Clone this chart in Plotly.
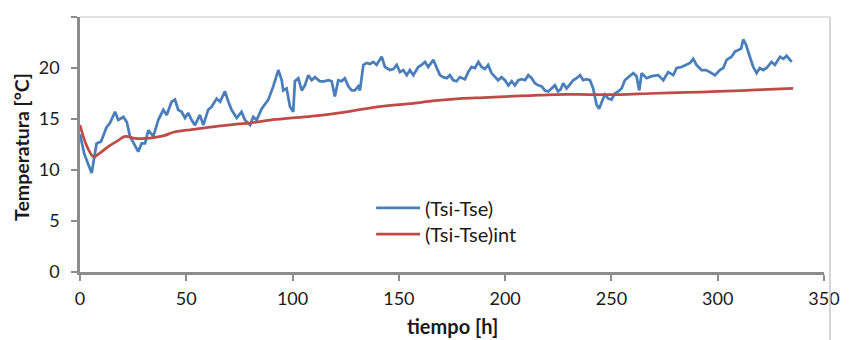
import plotly.graph_objects as go

# Blue series (Tsi-Tse): hours and values
t_blue = [0, 2, 4, 5.5, 7.8, 9.9, 12.5, 14.1, 16.5, 18, 20.4, 22, 23.5, 25.9, 27.4, 29, 30.6,
          32.1, 34.5, 36.8, 39.2, 40.8, 43.1, 44.7, 46.2, 47.8, 49.4, 50.9, 52.5, 54.1, 56.4,
          58, 60.3, 61.9, 64.3, 65.9, 68.2, 69.8, 71.3, 73.7, 76, 77.6, 80, 81.5, 83.1, 85.5,
          87, 88.6, 90.9, 93.3, 94.9, 95.6, 97.2, 98.8, 100.3, 101.1, 102.7, 104.3, 105.8,
          107.4, 109, 110.5, 112.9, 114.8, 116.8, 118.4, 119.9, 121.5, 123, 124.6, 126.2,
          127.8, 129.3, 130.9, 131.7, 133.3, 134.8, 136.4, 138, 139.5, 141.9, 143.5, 145.8,
          147.4, 149, 150.5, 152.1, 153.7, 155.2, 156.8, 159.1, 160.7, 162.3, 163.8, 166.2,
          167.8, 169.3, 170.9, 172.5, 174, 175.6, 177.1, 178.7, 181.1, 182.6, 184.2, 185.8,
          187.4, 188.9, 190.5, 192, 193.6, 195.2, 196.7, 198.3, 199.9, 201.5, 203.1, 204.6,
          206.2, 207.8, 209.4, 210.9, 212.5, 214, 215.6, 217.2, 218.7, 220.3, 221.8, 223.4,
          224.9, 226.1, 227.3, 228.9, 230.5, 232, 233.6, 235.2, 236.7, 238.3, 239.9, 241.4,
          243, 244.2, 245.5, 246.9, 248.5, 250, 251.6, 253.2, 254.8, 256.3, 257.9, 260.3,
          261.8, 263.1, 264.2, 266.5, 269, 272, 274.4, 276.7, 279.1, 280.7, 283, 285.4, 287,
          288.5, 290, 292.4, 294.5, 296.3, 298.7, 301, 302.6, 304.2, 306.5, 308.1, 309.7,
          311, 312, 313.3, 315.1, 316.7, 318.3, 319.8, 321.4, 323, 325.3, 326.9, 329.3,
          330.9, 332.4, 334.8]
v_blue = [13.5, 11.6, 10.5, 9.7, 12.6, 12.8, 14.2, 14.6, 15.7, 14.9, 15.2, 14.7, 13.3, 12.3,
          11.8, 12.6, 12.6, 13.9, 13.3, 14.9, 15.9, 15.4, 16.7, 16.9, 15.9, 15.7, 15.1, 15.6,
          14.9, 14.4, 15.4, 14.4, 15.9, 16.2, 17.0, 16.7, 17.7, 16.7, 15.9, 15.1, 15.7, 14.9,
          14.4, 15.2, 14.9, 16.0, 16.4, 16.9, 18.2, 19.8, 18.8, 17.8, 18.0, 16.2, 15.7, 18.7,
          19.0, 17.8, 18.3, 19.3, 18.8, 19.1, 18.7, 18.7, 18.8, 18.7, 17.2, 18.8, 18.7, 19.0,
          18.2, 17.8, 17.8, 18.2, 17.8, 20.3, 20.5, 20.4, 20.6, 20.3, 21.1, 20.1, 19.8, 19.9,
          20.3, 19.6, 19.8, 19.3, 19.8, 19.3, 20.1, 20.3, 20.6, 20.1, 20.8, 20.1, 19.3, 19.1,
          19.0, 19.3, 18.8, 18.7, 19.1, 18.9, 19.6, 20.1, 20.0, 20.6, 20.1, 19.9, 20.3, 19.5,
          19.1, 18.8, 19.1, 18.8, 18.3, 18.7, 18.3, 18.8, 18.9, 18.8, 19.3, 19.0, 18.5, 18.3,
          18.2, 17.8, 17.7, 18.0, 18.3, 17.7, 17.9, 18.5, 18.0, 18.4, 18.8, 19.0, 19.3, 18.8,
          18.9, 18.8, 18.0, 16.4, 16.0, 16.7, 17.4, 17.0, 16.9, 17.5, 17.7, 18.0, 18.8, 19.1,
          19.5, 19.2, 17.8, 19.5, 19.0, 19.2, 19.3, 18.8, 19.6, 19.3, 20.0, 20.1, 20.3, 20.5,
          20.9, 20.3, 19.8, 19.8, 19.6, 19.3, 19.8, 20.0, 20.8, 21.1, 21.6, 21.8, 21.9, 22.8,
          22.3, 21.1, 20.1, 19.5, 20.0, 19.8, 20.0, 20.6, 20.3, 21.1, 20.9, 21.2, 20.6]

# Red series (Tsi-Tse)int
t_red = [0, 2, 4, 6.3, 9, 13.3, 18, 21.2, 25.9, 30.6, 35.3, 40, 43.9, 50, 58, 65, 73.7,
         80, 89.4, 100, 110.5, 122, 134, 145, 155.2, 167, 178.7, 190, 200, 212, 223.4,
         240, 254, 268, 285, 300, 318, 335.5]
v_red = [14.4, 13.0, 12.0, 11.3, 11.6, 12.3, 12.9, 13.3, 13.1, 13.1, 13.2, 13.4, 13.7,
         13.9, 14.1, 14.3, 14.5, 14.6, 14.9, 15.1, 15.3, 15.6, 16.0, 16.3, 16.5, 16.8,
         17.0, 17.1, 17.2, 17.3, 17.4, 17.4, 17.4, 17.5, 17.6, 17.7, 17.85, 18.0]

series_names = ["(Tsi-Tse)", "(Tsi-Tse)int"]
series_colors = ["#4a7ebb", "#be4b48"]

x_ticks = [0, 50, 100, 150, 200, 250, 300, 350]
y_ticks = [0, 5, 10, 15, 20, 25]

FONT = "Lato, 'Open Sans', sans-serif"
TXT = "#1a1a1a"

fig = go.Figure()
fig.add_trace(go.Scatter(x=t_blue, y=v_blue, mode="lines", name=series_names[0],
                         showlegend=False,
                         line=dict(color=series_colors[0], width=2.75)))
fig.add_trace(go.Scatter(x=t_red, y=v_red, mode="lines", name=series_names[1],
                         showlegend=False, line_shape="spline",
                         line=dict(color=series_colors[1], width=2.75)))

axis_common = dict(showgrid=False, zeroline=False, showline=True, linecolor="#8c8c8c",
                   linewidth=2.5, ticks="outside", ticklen=6, tickwidth=1.5,
                   tickcolor="#8c8c8c", automargin=False,
                   tickfont=dict(family=FONT, size=18, color=TXT))

fig.update_xaxes(range=[0, 350], tickvals=x_ticks, ticklabelstandoff=3, **axis_common)
fig.update_yaxes(range=[0, 25], tickvals=y_ticks, ticklabelstandoff=8, **axis_common)

# axis titles
fig.add_annotation(text="<b>Temperatura [°C]</b>", xref="paper", yref="paper",
                   x=-0.0795, y=0.49, xanchor="center", yanchor="middle",
                   textangle=-90, showarrow=False, borderpad=0,
                   font=dict(family=FONT, size=19.5, color=TXT))
fig.add_annotation(text="<b>tiempo [h]</b>", xref="paper", yref="paper",
                   x=0.5, y=-0.212, xanchor="center", yanchor="middle", showarrow=False,
                   font=dict(family=FONT, size=20, color=TXT))

# legend (drawn as line samples + labels)
leg_y = [0.251, 0.149]
for name, col, ly in zip(series_names, series_colors, leg_y):
    fig.add_shape(type="line", xref="paper", yref="paper", x0=0.398, x1=0.457,
                  y0=ly, y1=ly, line=dict(color=col, width=2.75))
    fig.add_annotation(text=name, xref="paper", yref="paper", x=0.461, y=ly,
                       xanchor="left", yanchor="middle", showarrow=False,
                       font=dict(family=FONT, size=20, color=TXT))

# chart frame lines
fig.add_shape(type="line", xref="paper", yref="paper", x0=0, x1=1.008, y0=1.0, y1=1.0,
              line=dict(color="#d9d9d9", width=1.5))
fig.add_shape(type="line", xref="paper", yref="paper", x0=1.008, x1=1.008, y0=1.0, y1=-0.27,
              line=dict(color="#c8c8c8", width=1.5))

# the page body has an 8px margin, so the figure is sized and offset to compensate
fig.update_layout(
    width=841, height=332,
    margin=dict(l=72, r=25, t=9, b=68),
    paper_bgcolor="white", plot_bgcolor="white",
    font=dict(family=FONT, size=14, color=TXT),
    showlegend=False,
)

fig.write_html("out.html")
